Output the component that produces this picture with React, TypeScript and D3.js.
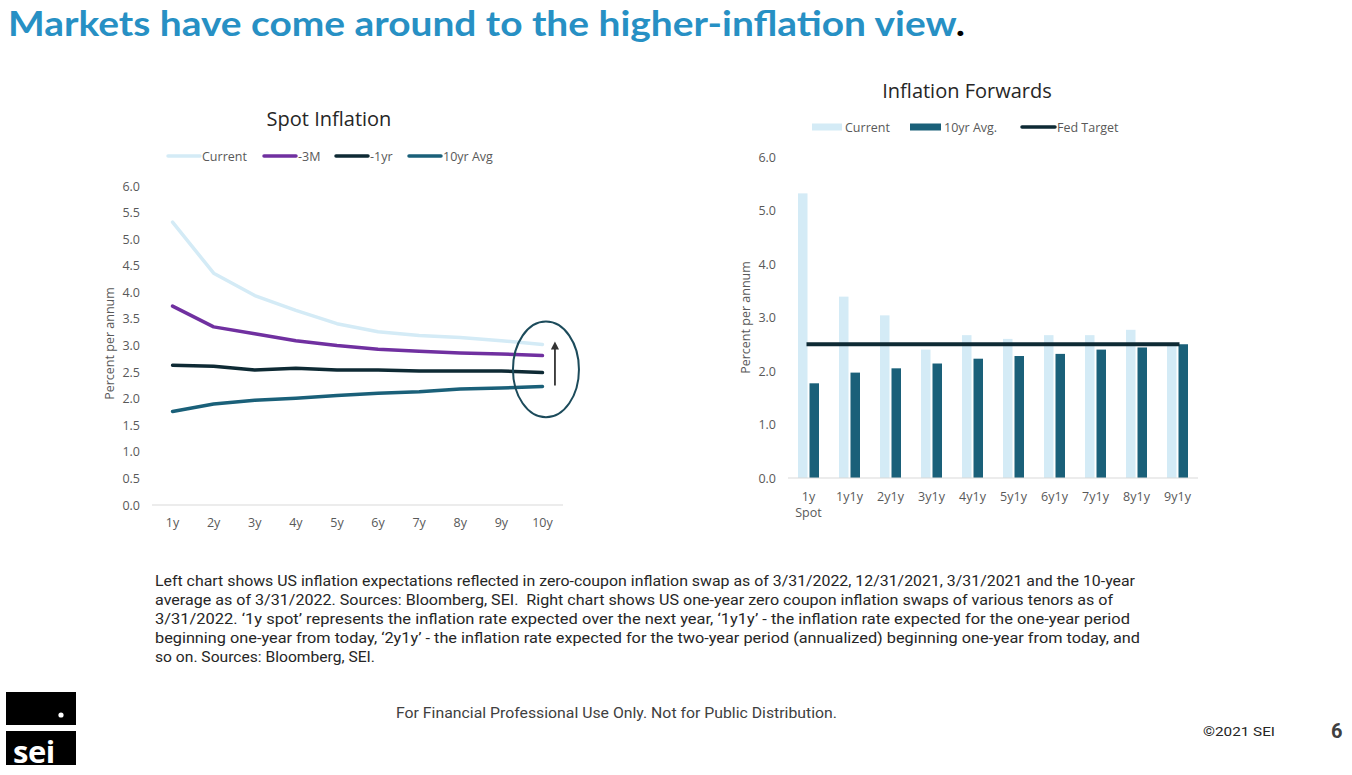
import React from "react";
import * as d3 from "d3";

const spotCats = ["1y", "2y", "3y", "4y", "5y", "6y", "7y", "8y", "9y", "10y"];
const spotCurrent = [5.32, 4.36, 3.94, 3.66, 3.41, 3.26, 3.19, 3.15, 3.09, 3.02];
const spot3M = [3.74, 3.35, 3.22, 3.09, 3.0, 2.93, 2.89, 2.86, 2.84, 2.81];
const spot1yr = [2.63, 2.61, 2.54, 2.57, 2.54, 2.54, 2.52, 2.52, 2.52, 2.49];
const spot10yrAvg = [1.76, 1.9, 1.97, 2.01, 2.06, 2.1, 2.13, 2.18, 2.2, 2.23];
const spotTicks = [0, 0.5, 1, 1.5, 2, 2.5, 3, 3.5, 4, 4.5, 5, 5.5, 6];

const fwdCats = ["1y", "1y1y", "2y1y", "3y1y", "4y1y", "5y1y", "6y1y", "7y1y", "8y1y", "9y1y"];
const fwdCurrent = [5.32, 3.39, 3.04, 2.4, 2.67, 2.6, 2.67, 2.67, 2.77, 2.49];
const fwd10yrAvg = [1.77, 1.97, 2.05, 2.14, 2.23, 2.28, 2.32, 2.4, 2.44, 2.5];
const fedTarget = 2.5;
const fwdTicks = [0, 1, 2, 3, 4, 5, 6];

const footnote = [
  "Left chart shows US inflation expectations reflected in zero-coupon inflation swap as of 3/31/2022, 12/31/2021, 3/31/2021 and the 10-year",
  "average as of 3/31/2022. Sources: Bloomberg, SEI.  Right chart shows US one-year zero coupon inflation swaps of various tenors as of",
  "3/31/2022. \u20181y spot\u2019 represents the inflation rate expected over the next year, \u20181y1y\u2019 - the inflation rate expected for the one-year period",
  "beginning one-year from today, \u20182y1y\u2019 - the inflation rate expected for the two-year period (annualized) beginning one-year from today, and",
  "so on. Sources: Bloomberg, SEI.",
];
const footWidths = [980, 958, 975, 985, 220];

const C_CURRENT = "#d4ebf6";
const C_3M = "#7030a0";
const C_1YR = "#0e2a34";
const C_AVG = "#1a6079";
const C_AXIS = "#d9d9d9";
const C_TICK = "#595959";
const FONT = "'Open Sans', 'Noto Sans', sans-serif";

export default function App() {
  // Left chart scales
  const xL = d3.scaleBand<string>().domain(spotCats).range([152, 563]).padding(0);
  const xLc = (c: string) => (xL(c) as number) + xL.bandwidth() / 2;
  const yL = d3.scaleLinear().domain([0, 6]).range([505, 186]);
  const lineL = d3
    .line<number>()
    .x((_, i) => xLc(spotCats[i]))
    .y((d) => yL(d));
  const seriesL = [
    { name: "Current", data: spotCurrent, color: C_CURRENT, lx: 168 },
    { name: "-3M", data: spot3M, color: C_3M, lx: 264 },
    { name: "-1yr", data: spot1yr, color: C_1YR, lx: 336 },
    { name: "10yr Avg", data: spot10yrAvg, color: C_AVG, lx: 409 },
  ];

  // Right chart scales
  const xR = d3.scaleBand<string>().domain(fwdCats).range([788, 1198]).padding(0);
  const xRc = (c: string) => (xR(c) as number) + xR.bandwidth() / 2;
  const yR = d3.scaleLinear().domain([0, 6]).range([478, 157]);
  const barW = 9.5;
  const gap = 1;

  const lastC = xLc(spotCats[spotCats.length - 1]);

  return (
    <svg
      width={1352}
      height={775}
      style={{ position: "absolute", left: 0, top: 0, background: "#fff" }}
      fontFamily={FONT}
    >
      {/* Title */}
      <text
        x={8}
        y={36}
        fontFamily="Lato, 'Open Sans', sans-serif"
        fontWeight={700}
        fontSize={34}
        fill="#2790c4"
        textLength={957}
        lengthAdjust="spacingAndGlyphs"
      >
        Markets have come around to the higher-inflation view<tspan fill="#000">.</tspan>
      </text>

      {/* ---------- Left chart ---------- */}
      <text x={329} y={126} textAnchor="middle" fontSize={20} fill="#262626">
        Spot Inflation
      </text>
      {seriesL.map((s) => (
        <g key={s.name}>
          <line x1={s.lx} x2={s.lx + 32} y1={156} y2={156} stroke={s.color} strokeWidth={3.5} strokeLinecap="round" />
          <text x={s.lx + 34} y={160.5} fontSize={12.5} fill={C_TICK}>
            {s.name}
          </text>
        </g>
      ))}
      {spotTicks.map((t) => (
        <text key={t} x={140} y={yL(t) + 4.5} textAnchor="end" fontSize={12.5} fill={C_TICK}>
          {d3.format(".1f")(t)}
        </text>
      ))}
      <line x1={152} x2={563} y1={yL(0)} y2={yL(0)} stroke={C_AXIS} strokeWidth={1} />
      {spotCats.map((c) => (
        <text key={c} x={xLc(c)} y={527} textAnchor="middle" fontSize={12.5} fill={C_TICK}>
          {c}
        </text>
      ))}
      <text
        transform={`translate(114,${(yL(0) + yL(6)) / 2 - 2}) rotate(-90)`}
        textAnchor="middle"
        fontSize={12.5}
        fill={C_TICK}
      >
        Percent per annum
      </text>
      {seriesL.map((s) => (
        <path
          key={s.name}
          d={lineL(s.data) as string}
          fill="none"
          stroke={s.color}
          strokeWidth={3.5}
          strokeLinejoin="round"
          strokeLinecap="round"
        />
      ))}
      {/* annotation ellipse and arrow */}
      <ellipse
        cx={lastC + 3.5}
        cy={yL(2.55)}
        rx={33}
        ry={yL(0) - yL(0.9)}
        fill="none"
        stroke="#1c4b5b"
        strokeWidth={2}
      />
      <defs>
        <marker id="arrowHead" viewBox="0 0 10 10" refX={5} refY={5} markerWidth={4.5} markerHeight={4.5} orient="auto">
          <path d="M0,0 L10,5 L0,10 z" fill="#333" />
        </marker>
      </defs>
      <line
        x1={lastC + 12.5}
        x2={lastC + 12.5}
        y1={yL(2.25)}
        y2={yL(3.0)}
        stroke="#333"
        strokeWidth={1.8}
        markerEnd="url(#arrowHead)"
      />

      {/* ---------- Right chart ---------- */}
      <text x={967} y={98} textAnchor="middle" fontSize={20} fill="#262626">
        Inflation Forwards
      </text>
      <rect x={812} y={123.5} width={30} height={7} fill={C_CURRENT} />
      <text x={845} y={131.5} fontSize={12.5} fill={C_TICK}>
        Current
      </text>
      <rect x={910} y={123.5} width={31} height={7} fill={C_AVG} />
      <text x={944} y={131.5} fontSize={12.5} fill={C_TICK}>
        10yr Avg.
      </text>
      <line x1={1022} x2={1055} y1={127} y2={127} stroke={C_1YR} strokeWidth={3.5} strokeLinecap="round" />
      <text x={1057} y={131.5} fontSize={12.5} fill={C_TICK}>
        Fed Target
      </text>

      {fwdTicks.map((t) => (
        <text key={t} x={776} y={yR(t) + 4.5} textAnchor="end" fontSize={12.5} fill={C_TICK}>
          {d3.format(".1f")(t)}
        </text>
      ))}
      <text
        transform={`translate(750,${(yR(0) + yR(6)) / 2}) rotate(-90)`}
        textAnchor="middle"
        fontSize={12.5}
        fill={C_TICK}
      >
        Percent per annum
      </text>
      {fwdCats.map((c, i) => (
        <g key={c}>
          <rect
            x={xRc(c) - gap - barW}
            y={yR(fwdCurrent[i])}
            width={barW}
            height={yR(0) - yR(fwdCurrent[i])}
            fill={C_CURRENT}
          />
          <rect
            x={xRc(c) + gap}
            y={yR(fwd10yrAvg[i])}
            width={barW}
            height={yR(0) - yR(fwd10yrAvg[i])}
            fill={C_AVG}
          />
        </g>
      ))}
      <line x1={788} x2={1198} y1={yR(0)} y2={yR(0)} stroke={C_AXIS} strokeWidth={1} />
      <line
        x1={xRc(fwdCats[0]) - 2}
        x2={xRc(fwdCats[fwdCats.length - 1]) + 2}
        y1={yR(fedTarget)}
        y2={yR(fedTarget)}
        stroke={C_1YR}
        strokeWidth={4}
      />
      {fwdCats.map((c) => (
        <text key={c} x={xRc(c)} y={501} textAnchor="middle" fontSize={12.5} fill={C_TICK}>
          {c}
        </text>
      ))}
      <text x={xRc(fwdCats[0])} y={517} textAnchor="middle" fontSize={12.5} fill={C_TICK}>
        Spot
      </text>

      {/* ---------- Footnote ---------- */}
      {footnote.map((l, i) => (
        <text
          key={i}
          x={155}
          y={586 + i * 19}
          fontSize={14}
          fill="#262626"
          fontFamily="'Liberation Sans Narrow', 'Roboto', sans-serif"
          textLength={footWidths[i]}
          lengthAdjust="spacingAndGlyphs"
          xmlSpace="preserve"
        >
          {l}
        </text>
      ))}

      {/* ---------- Footer ---------- */}
      <text
        x={396}
        y={718}
        fontSize={14}
        fill="#404040"
        fontFamily="'Liberation Sans Narrow', 'Roboto', sans-serif"
        textLength={441}
        lengthAdjust="spacingAndGlyphs"
      >
        For Financial Professional Use Only. Not for Public Distribution.
      </text>
      <text
        x={1203}
        y={736}
        fontSize={13}
        fill="#262626"
        fontFamily="'Liberation Sans Narrow', 'Roboto', sans-serif"
        textLength={72}
        lengthAdjust="spacingAndGlyphs"
      >
        ©2021 SEI
      </text>
      <text x={1331} y={738} fontSize={20} fontWeight={700} fill="#404040" fontFamily="'Liberation Sans Narrow', Roboto, sans-serif">
        6
      </text>

      {/* Logo */}
      <rect x={6} y={692} width={70} height={33} fill="#000" />
      <circle cx={61} cy={715} r={2.6} fill="#fff" />
      <rect x={6} y={731} width={70} height={34} fill="#000" />
      <text
        x={13}
        y={763}
        fontSize={31}
        fontWeight={700}
        fill="#fff"
        fontFamily="'Open Sans', sans-serif"
        letterSpacing={-0.5}
      >
        sei
      </text>
    </svg>
  );
}
